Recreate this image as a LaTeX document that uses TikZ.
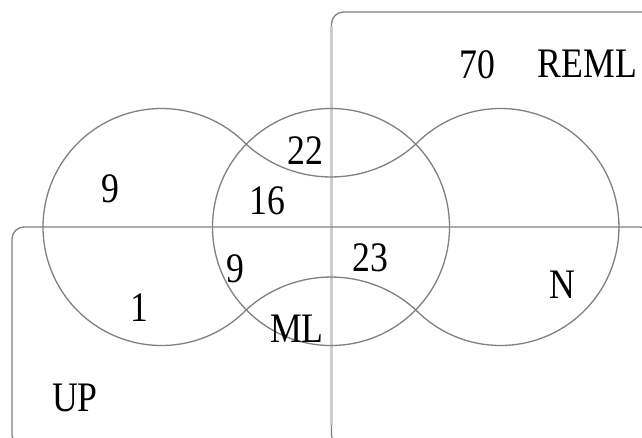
\documentclass[tikz,border=0pt]{standalone}
\usepackage{fontspec}
\newfontfamily\lblfont[FakeStretch=0.85]{Liberation Serif}
\definecolor{lineg}{RGB}{128,128,128}
\definecolor{lightg}{RGB}{204,204,204}
\begin{document}
\begin{tikzpicture}[x=1pt,y=1pt,
  setline/.style={draw=lineg, line width=1.3pt},
  lbl/.style={inner sep=0pt, font=\lblfont\fontsize{42}{42}\selectfont, text=black}]
\useasboundingbox (0,0) rectangle (642,-437);
\clip (0,0) rectangle (642,-437);
\fill[white] (0,0) rectangle (642,-437);
% rectangles
\draw[setline, rounded corners=12] (331.5,-447) rectangle (662,-12);
\draw[lightg, line width=3.5pt] (331.5,-425) -- (331.5,-26);
\draw[setline, rounded corners=12] (12,-447) rectangle (652,-227);
% middle circle (ML)
\draw[setline] (331,-227) circle[radius=118.5];
% dumbbell shape (N)
\draw[setline] (246.25,-144.2)
  arc[start angle=44.33, end angle=315.67, radius=118.5]
  arc[start angle=132.3, end angle=47.7, radius=125.9]
  arc[start angle=224.33, end angle=495.67, radius=118.5]
  arc[start angle=312.3, end angle=227.7, radius=125.9] -- cycle;
% labels
\node[lbl] (n70) at (477.5,-65) {70};
\node[lbl] (reml) at (587.5,-64) {REML};
\node[lbl] (n9a) at (110,-189) {9};
\node[lbl] (n22) at (305,-151) {22};
\node[lbl] (n16) at (267.5,-201) {16};
\node[lbl] (n9b) at (235,-269) {9};
\node[lbl] (n1) at (139,-308) {1};
\node[lbl] (ml) at (297,-329) {ML};
\node[lbl] (up) at (75,-398) {UP};
\node[lbl] (n23) at (370,-258) {23};
\node[lbl] (nn) at (562.5,-285) {N};
\end{tikzpicture}
\end{document}
